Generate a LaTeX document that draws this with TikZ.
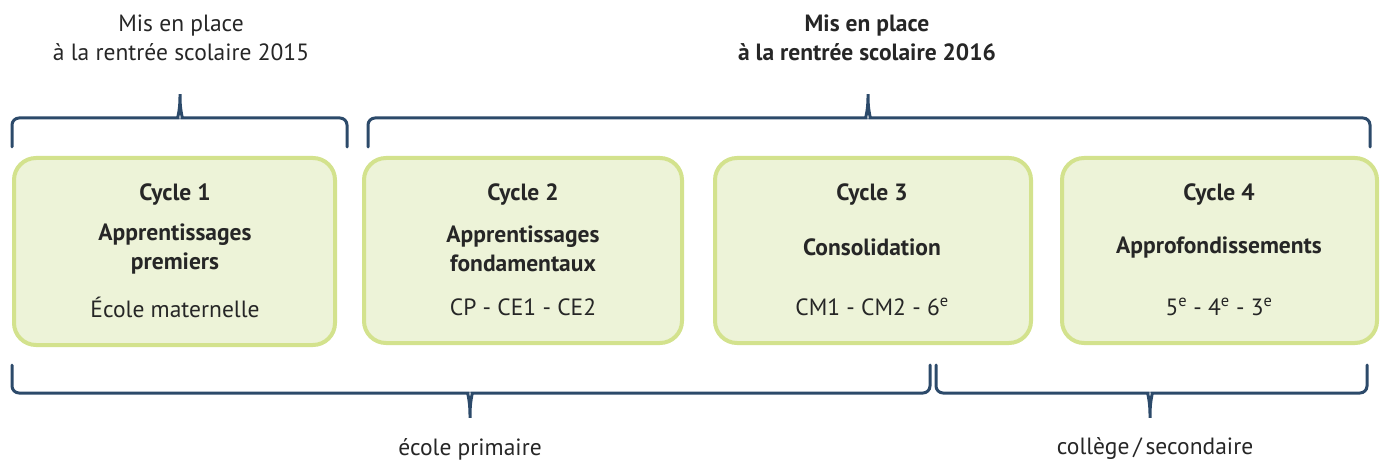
\documentclass[tikz,border=0pt]{standalone}
\usepackage{fontspec}
\setmainfont{PT Sans}
\definecolor{boxfill}{HTML}{EDF3D8}
\definecolor{boxline}{HTML}{D3E28D}
\definecolor{bracecol}{HTML}{2C4A6A}
\definecolor{txt}{HTML}{262626}
\tikzset{
  cycbox/.style={draw=boxline, fill=boxfill, line width=4pt, rounded corners=22pt, inner sep=0pt},
  brace/.style={draw=bracecol, line width=3pt, rounded corners=7pt, line cap=round},
  lbl/.style={text=txt, inner sep=0pt, align=center, font=\fontsize{23.5}{29}\selectfont},
  ttl/.style={lbl, font=\fontsize{23.5}{29}\selectfont\bfseries}
}
\begin{document}
\begin{tikzpicture}[x=1pt, y=-1pt]
	\useasboundingbox (0,0) rectangle (1380,462);
	% boxes
	\draw[cycbox] (14,158) rectangle (335,345);
	\draw[cycbox] (364,158) rectangle (682,343);
	\draw[cycbox] (715,158) rectangle (1031,343);
	\draw[cycbox] (1062,158) rectangle (1377,343);
	% cycle 1
	\node[ttl] (c1) at (175,195) {Cycle 1};
	\node[ttl] (c1n) at (175,249) {Apprentissages\\premiers};
	\node[lbl] (c1l) at (175,307) {École maternelle};
	% cycle 2
	\node[ttl] (c2) at (523,195) {Cycle 2};
	\node[ttl] (c2n) at (523,249) {Apprentissages\\fondamentaux};
	\node[lbl] (c2l) at (523,307) {CP - CE1 - CE2};
	% cycle 3
	\node[ttl] (c3) at (872,195) {Cycle 3};
	\node[ttl] (c3n) at (872,247) {Consolidation};
	\node[lbl] (c3l) at (872,307) {CM1 - CM2 - 6\textsuperscript{e}};
	% cycle 4
	\node[ttl] (c4) at (1219,195) {Cycle 4};
	\node[ttl] (c4n) at (1219,247) {Approfondissements};
	\node[lbl] (c4l) at (1219,307) {5\textsuperscript{e} - 4\textsuperscript{e} - 3\textsuperscript{e}};
	% braces
	\draw[brace] (12,147) |- (171,118) .. controls (177,118) and (180,112) .. (180,90)
		.. controls (180,112) and (183,118) .. (189,118) -| (347,147);
	\draw[brace] (368,147) |- (859,118) .. controls (865,118) and (868,112) .. (868,90)
		.. controls (868,112) and (871,118) .. (877,118) -| (1370,147);
	\draw[brace] (12,365) |- (461,393) .. controls (467,393) and (470,399) .. (470,422)
		.. controls (470,399) and (473,393) .. (479,393) -| (930,365);
	\draw[brace] (936,365) |- (1141,393) .. controls (1147,393) and (1150,399) .. (1150,422)
		.. controls (1150,399) and (1153,393) .. (1159,393) -| (1367,365);
	% texts
	\node[lbl] (y15) at (181,38) {Mis en place\\à la rentrée scolaire 2015};
	\node[ttl] (y16) at (867,38) {Mis en place\\à la rentrée scolaire 2016};
	\node[lbl] (prim) at (470,449) {école primaire};
	\node[lbl] (coll) at (1155,449) {collège\,/\,secondaire};
\end{tikzpicture}
\end{document}
